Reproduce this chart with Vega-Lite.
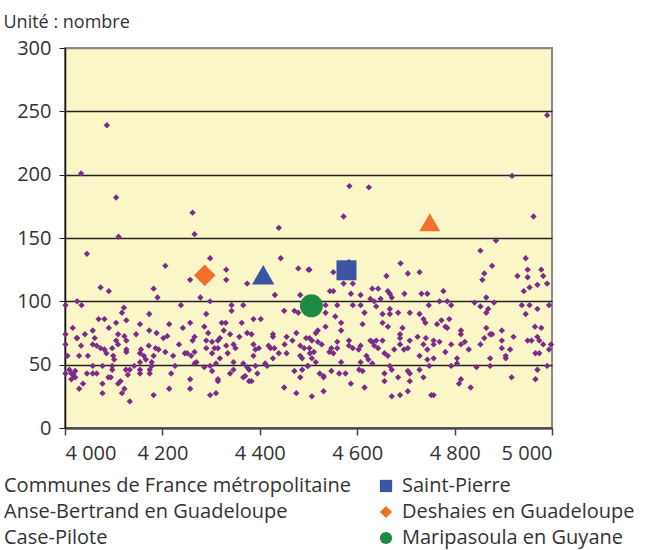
{
"$schema": "https://vega.github.io/schema/vega-lite/v6.json",
"width": 487, "height": 380,
"autosize": {"type": "none"},
"padding": {"left": 65, "top": 48, "right": 97, "bottom": 122},
"background": "white",
"config": {
 "font": "Open Sans",
 "view": {"fill": "#FAF6C8", "stroke": "#8a8a8a", "strokeWidth": 2},
 "axis": {"labelFont": "Open Sans", "labelFontSize": 20, "labelColor": "#333", "titleFont": "Open Sans"},
 "legend": {"orient": "none", "legendX": -87, "legendY": 428, "columns": 2, "direction": "vertical", "columnPadding": 25, "rowPadding": 6, "labelFont": "Open Sans", "labelFontSize": 20, "labelColor": "#333", "labelLimit": 0, "symbolSize": 150, "labelOffset": 6, "padding": 0, "symbolStrokeWidth": 0}
},
"datasets": {
"communes": [
{"x":4086,"y":239},{"x":4033,"y":201},{"x":4990,"y":247},{"x":4105,"y":182},{"x":4262,"y":170},{"x":4110,"y":151},{"x":4266,"y":153},{"x":4439,"y":158},{"x":4584,"y":191},{"x":4624,"y":190},{"x":4572,"y":167},{"x":4918,"y":199},{"x":4962,"y":167},{"x":4885,"y":148},
{"x":4045,"y":137.5},{"x":4206,"y":128},{"x":4073,"y":111},{"x":4090,"y":108},{"x":4182,"y":110},{"x":4190,"y":103},{"x":4025,"y":100},{"x":4034,"y":97},{"x":4001,"y":97},{"x":4238,"y":97},{"x":4121,"y":95},{"x":4117,"y":91},{"x":4173,"y":90},{"x":4069,"y":86},{"x":4081,"y":86},{"x":4105,"y":83},{"x":4126,"y":85},{"x":4154,"y":82},{"x":4214,"y":82},{"x":4016,"y":79},{"x":4090,"y":79},{"x":4057,"y":77},{"x":4173,"y":77},{"x":4188,"y":75},{"x":4242,"y":79},{"x":4041,"y":74},{"x":4025,"y":71},{"x":4109,"y":74},{"x":4122,"y":72.5},{"x":4146,"y":74},{"x":4126,"y":69},{"x":4210,"y":72.5},{"x":4202,"y":71},{"x":4061,"y":71},{"x":4105,"y":69},{"x":4001,"y":66},{"x":4033,"y":65},{"x":4057,"y":66},{"x":4065,"y":65},{"x":4073,"y":63},{"x":4081,"y":62},{"x":4097,"y":63},{"x":4109,"y":66},{"x":4126,"y":62},{"x":4126,"y":60},{"x":4156,"y":62},{"x":4172,"y":65},{"x":4186,"y":63},{"x":4192,"y":62},{"x":4206,"y":60},{"x":4234,"y":66},{"x":4246,"y":59},{"x":4005,"y":57},{"x":4029,"y":57},{"x":4047,"y":57},{"x":4085,"y":59},{"x":4099,"y":57},{"x":4154,"y":59},{"x":4162,"y":57},{"x":4182,"y":57},{"x":4222,"y":57},{"x":4101,"y":54},{"x":4154,"y":52},{"x":4166,"y":54},{"x":4178,"y":52},{"x":4057,"y":49},{"x":4077,"y":49},{"x":4097,"y":49},{"x":4142,"y":49},{"x":4178,"y":49},{"x":4226,"y":49},{"x":4009,"y":46},{"x":4013,"y":43},{"x":4017,"y":42},{"x":4021,"y":45},{"x":4001,"y":43},{"x":4045,"y":43},{"x":4057,"y":43},{"x":4065,"y":43},{"x":4097,"y":46},{"x":4125,"y":46},{"x":4133,"y":46},{"x":4154,"y":46},{"x":4174,"y":46},{"x":4094,"y":40},{"x":4129,"y":42},{"x":4154,"y":43},{"x":4174,"y":43},{"x":4218,"y":43},{"x":4013,"y":38.5},{"x":4021,"y":40},{"x":4089,"y":40},{"x":4114,"y":37},{"x":4077,"y":35},{"x":4037,"y":35},{"x":4109,"y":35},{"x":4029,"y":31},{"x":4122,"y":31},{"x":4117,"y":27.5},{"x":4077,"y":27.5},{"x":4214,"y":31},{"x":4182,"y":26},{"x":4133,"y":21},{"x":4001,"y":74},{"x":4024,"y":71},
{"x":4298,"y":134},{"x":4443,"y":134},{"x":4331,"y":125},{"x":4479,"y":126},{"x":4500,"y":125},{"x":4257,"y":117},{"x":4331,"y":117},{"x":4374,"y":114},{"x":4431,"y":105},{"x":4483,"y":105},{"x":4278,"y":103},{"x":4298,"y":100},{"x":4342,"y":97},{"x":4366,"y":97},{"x":4342,"y":92.5},{"x":4450,"y":92.5},{"x":4471,"y":92.5},{"x":4479,"y":91},{"x":4290,"y":90},{"x":4387,"y":86},{"x":4402,"y":86},{"x":4257,"y":83},{"x":4322,"y":83},{"x":4330,"y":83},{"x":4363,"y":83},{"x":4286,"y":80},{"x":4326,"y":77},{"x":4294,"y":75},{"x":4339,"y":74},{"x":4374,"y":75},{"x":4383,"y":74},{"x":4475,"y":75},{"x":4266,"y":72},{"x":4358,"y":72},{"x":4427,"y":74},{"x":4427,"y":72},{"x":4455,"y":72},{"x":4262,"y":69},{"x":4290,"y":69},{"x":4302,"y":68},{"x":4314,"y":69},{"x":4318,"y":71},{"x":4346,"y":66},{"x":4387,"y":66},{"x":4467,"y":69},{"x":4495,"y":71},{"x":4307,"y":63},{"x":4290,"y":63},{"x":4314,"y":63},{"x":4331,"y":65},{"x":4350,"y":63},{"x":4391,"y":62},{"x":4398,"y":63},{"x":4422,"y":63},{"x":4418,"y":65},{"x":4430,"y":63},{"x":4451,"y":66},{"x":4483,"y":65},{"x":4491,"y":63},{"x":4266,"y":60},{"x":4251,"y":59},{"x":4259,"y":57},{"x":4302,"y":59},{"x":4334,"y":59},{"x":4387,"y":57},{"x":4439,"y":59},{"x":4455,"y":59},{"x":4483,"y":57},{"x":4503,"y":59},{"x":4318,"y":55},{"x":4427,"y":55},{"x":4487,"y":55},{"x":4270,"y":52},{"x":4346,"y":52},{"x":4366,"y":51},{"x":4411,"y":51},{"x":4266,"y":51},{"x":4286,"y":48},{"x":4298,"y":49},{"x":4310,"y":51},{"x":4374,"y":48},{"x":4391,"y":49},{"x":4415,"y":49},{"x":4498,"y":49},{"x":4302,"y":45},{"x":4346,"y":46},{"x":4378,"y":46},{"x":4471,"y":45},{"x":4487,"y":46},{"x":4339,"y":43},{"x":4395,"y":43},{"x":4370,"y":41},{"x":4366,"y":40},{"x":4257,"y":38.5},{"x":4314,"y":38.5},{"x":4483,"y":40},{"x":4378,"y":37},{"x":4383,"y":37},{"x":4314,"y":37},{"x":4257,"y":31},{"x":4450,"y":32},{"x":4298,"y":26},{"x":4310,"y":27.5},{"x":4475,"y":27.5},
{"x":4583,"y":131},{"x":4689,"y":130},{"x":4502,"y":125},{"x":4551,"y":123},{"x":4704,"y":122},{"x":4728,"y":123},{"x":4660,"y":120},{"x":4572,"y":114},{"x":4591,"y":114},{"x":4544,"y":108},{"x":4551,"y":108},{"x":4587,"y":106},{"x":4607,"y":105},{"x":4631,"y":110},{"x":4643,"y":110},{"x":4663,"y":108},{"x":4667,"y":106},{"x":4697,"y":106},{"x":4732,"y":106},{"x":4744,"y":106},{"x":4671,"y":103},{"x":4627,"y":102},{"x":4648,"y":102},{"x":4635,"y":100},{"x":4535,"y":97},{"x":4559,"y":97},{"x":4591,"y":97},{"x":4607,"y":97},{"x":4639,"y":96},{"x":4747,"y":97},{"x":4667,"y":94},{"x":4535,"y":91},{"x":4615,"y":91},{"x":4652,"y":90},{"x":4667,"y":90},{"x":4684,"y":91},{"x":4708,"y":91},{"x":4728,"y":90},{"x":4736,"y":86},{"x":4740,"y":83},{"x":4555,"y":88},{"x":4567,"y":83},{"x":4652,"y":83},{"x":4611,"y":82},{"x":4663,"y":80},{"x":4535,"y":80},{"x":4693,"y":79},{"x":4567,"y":77},{"x":4519,"y":77},{"x":4515,"y":75},{"x":4688,"y":74},{"x":4688,"y":71},{"x":4724,"y":72},{"x":4741,"y":71},{"x":4502,"y":71},{"x":4507,"y":69},{"x":4583,"y":69},{"x":4627,"y":69},{"x":4639,"y":69},{"x":4652,"y":69},{"x":4708,"y":69},{"x":4519,"y":68},{"x":4527,"y":66},{"x":4559,"y":68},{"x":4631,"y":68},{"x":4688,"y":66},{"x":4736,"y":66},{"x":4583,"y":65},{"x":4591,"y":63},{"x":4607,"y":65},{"x":4635,"y":65},{"x":4643,"y":63},{"x":4502,"y":63},{"x":4547,"y":63},{"x":4559,"y":63},{"x":4603,"y":62},{"x":4676,"y":62},{"x":4696,"y":62},{"x":4704,"y":63},{"x":4744,"y":62},{"x":4511,"y":60},{"x":4543,"y":60},{"x":4551,"y":59},{"x":4656,"y":59},{"x":4663,"y":57},{"x":4619,"y":57},{"x":4728,"y":57},{"x":4507,"y":55},{"x":4623,"y":54},{"x":4744,"y":54},{"x":4515,"y":52},{"x":4567,"y":52},{"x":4607,"y":52},{"x":4631,"y":51},{"x":4499,"y":49},{"x":4667,"y":49},{"x":4671,"y":46},{"x":4748,"y":49},{"x":4604,"y":46},{"x":4611,"y":45},{"x":4728,"y":46},{"x":4547,"y":45},{"x":4523,"y":43},{"x":4531,"y":41},{"x":4531,"y":40},{"x":4563,"y":43},{"x":4576,"y":43},{"x":4656,"y":43},{"x":4704,"y":45},{"x":4708,"y":43},{"x":4684,"y":40},{"x":4736,"y":40},{"x":4656,"y":37},{"x":4708,"y":37},{"x":4587,"y":35},{"x":4615,"y":32},{"x":4531,"y":29},{"x":4704,"y":29},{"x":4507,"y":25},{"x":4671,"y":25},{"x":4688,"y":26},{"x":4752,"y":26},
{"x":4853,"y":140},{"x":4946,"y":134},{"x":4877,"y":128},{"x":4861,"y":122},{"x":4857,"y":117},{"x":4950,"y":125},{"x":4978,"y":125},{"x":4982,"y":120},{"x":4950,"y":119},{"x":4929,"y":120},{"x":4990,"y":114},{"x":4970,"y":113},{"x":4954,"y":111},{"x":4942,"y":108},{"x":4777,"y":108},{"x":4865,"y":103},{"x":4769,"y":100},{"x":4785,"y":100},{"x":4793,"y":97},{"x":4841,"y":99},{"x":4853,"y":96},{"x":4881,"y":99},{"x":4938,"y":97},{"x":4954,"y":97},{"x":4970,"y":94},{"x":4994,"y":97},{"x":4869,"y":94},{"x":4865,"y":91},{"x":4946,"y":90},{"x":4789,"y":86},{"x":4773,"y":85},{"x":4764,"y":82},{"x":4781,"y":80},{"x":4785,"y":79},{"x":4965,"y":80},{"x":4978,"y":79},{"x":4865,"y":79},{"x":4813,"y":77},{"x":4897,"y":77},{"x":4813,"y":74},{"x":4873,"y":74},{"x":4877,"y":74},{"x":4921,"y":72},{"x":4861,"y":71},{"x":4970,"y":72},{"x":4950,"y":69},{"x":4958,"y":69},{"x":4974,"y":69},{"x":4897,"y":69},{"x":4757,"y":69},{"x":4769,"y":68},{"x":4821,"y":68},{"x":4813,"y":66},{"x":4793,"y":66},{"x":4853,"y":66},{"x":4982,"y":66},{"x":4998,"y":66},{"x":4757,"y":66},{"x":4897,"y":63},{"x":4829,"y":62},{"x":4914,"y":62},{"x":4994,"y":62},{"x":4781,"y":60},{"x":4966,"y":59},{"x":4974,"y":59},{"x":4905,"y":57},{"x":4905,"y":55},{"x":4757,"y":55},{"x":4805,"y":55},{"x":4873,"y":55},{"x":4805,"y":51},{"x":4793,"y":49},{"x":4873,"y":49},{"x":4990,"y":49},{"x":4845,"y":48},{"x":4970,"y":46},{"x":4917,"y":40},{"x":4813,"y":38.5},{"x":4809,"y":35},{"x":4833,"y":32},{"x":4966,"y":38.5},{"x":4757,"y":26}
],
"dom": [
{"x":4578,"y":124.5,"s":"Saint-Pierre"},
{"x":4749,"y":162.5,"s":"Anse-Bertrand en Guadeloupe"},
{"x":4287,"y":120.5,"s":"Deshaies en Guadeloupe"},
{"x":4407,"y":121,"s":"Case-Pilote"},
{"x":4506,"y":96.5,"s":"Maripasoula en Guyane"}
]
},
"encoding": {
 "x": {"field": "x", "type": "quantitative", "scale": {"domain": [4000, 5000], "nice": false, "zero": false},
  "axis": {"values": [4000, 4200, 4400, 4600, 4800, 5000], "labelExpr": "replace(format(datum.value, ','), ',', ' ')", "title": null, "grid": false, "domainColor": "#444", "domainWidth": 2, "tickColor": "#444", "tickWidth": 1.5, "tickSize": 7, "labelPadding": 8, "labelFontSize": 20}},
 "y": {"field": "y", "type": "quantitative", "scale": {"domain": [0, 300], "nice": false},
  "axis": {"values": [0, 50, 100, 150, 200, 250, 300], "title": "Unité : nombre", "titleAngle": 0, "titleAlign": "left", "titleBaseline": "alphabetic", "titleX": -62, "titleY": -21, "titleFontSize": 18, "titleFontWeight": "normal", "titleColor": "#333", "grid": true, "gridColor": {"condition": {"test": "datum.value == 300", "value": "#8a8a8a"}, "value": "#222"}, "gridWidth": 1.3, "domainColor": "#111", "domainWidth": 1.5, "tickColor": "#222", "tickSize": 6, "labelPadding": 8}}
},
"layer": [
 {"data": {"name": "communes"},
  "mark": {"type": "point", "filled": true, "opacity": 1, "size": 40},
  "encoding": {
   "color": {"datum": "Communes de France métropolitaine", "type": "nominal", "title": null,
     "scale": {"domain": ["Communes de France métropolitaine", "Anse-Bertrand en Guadeloupe", "Case-Pilote", "Saint-Pierre", "Deshaies en Guadeloupe", "Maripasoula en Guyane"], "range": ["#7A2B8B", "#F26F2C", "#3B55A3", "#3B55A3", "#F26F2C", "#1F8A45"]}},
   "shape": {"datum": "Communes de France métropolitaine", "type": "nominal", "title": null,
     "scale": {"domain": ["Communes de France métropolitaine", "Anse-Bertrand en Guadeloupe", "Case-Pilote", "Saint-Pierre", "Deshaies en Guadeloupe", "Maripasoula en Guyane"], "range": ["diamond", "triangle-up", "triangle-up", "square", "diamond", "circle"]}}
  }},
 {"data": {"name": "dom"},
  "mark": {"type": "point", "filled": true, "opacity": 1},
  "encoding": {
   "color": {"field": "s", "type": "nominal", "title": null,
     "legend": {"encode": {"symbols": {"update": {"opacity": {"signal": "indexof(['Saint-Pierre','Deshaies en Guadeloupe','Maripasoula en Guyane'], datum.value) >= 0 ? 1 : 0"}}}}}},
   "shape": {"field": "s", "type": "nominal", "title": null},
   "size": {"field": "s", "type": "nominal", "legend": null,
     "scale": {"domain": ["Saint-Pierre", "Anse-Bertrand en Guadeloupe", "Deshaies en Guadeloupe", "Case-Pilote", "Maripasoula en Guyane"], "range": [400, 529, 441, 529, 576]}}
  }}
]
}
